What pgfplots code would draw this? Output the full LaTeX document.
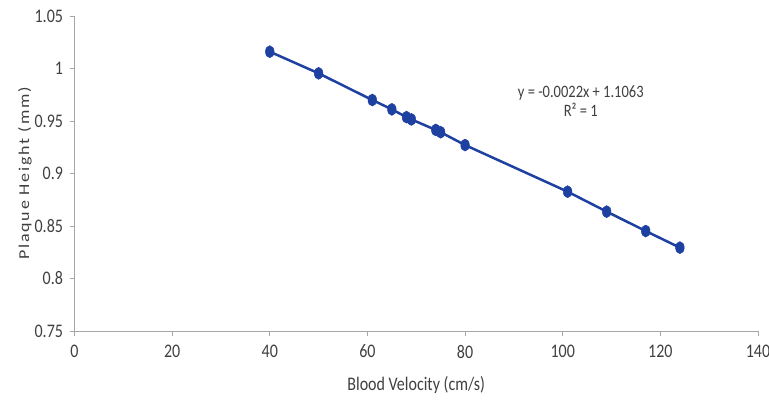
\documentclass[border=0pt]{standalone}
\usepackage{pgfplots}
\pgfplotsset{compat=1.18}
\usepackage{fontspec}
\setmainfont{Carlito}
\definecolor{ptblue}{HTML}{1E40A0}
\definecolor{axgray}{HTML}{A6A6A6}
\definecolor{txt}{HTML}{404040}
\begin{document}
\begin{tikzpicture}
\path[use as bounding box] (-74.5bp,-81bp) rectangle (694.5bp,331bp);
\begin{axis}[at={(0,0)}, anchor=south west, scale only axis,
  width=683.5bp, height=315bp,
  xmin=0, xmax=140, ymin=0.75, ymax=1.05,
  axis lines*=left,
  axis line style={axgray, line width=0.9bp, -},
  tick style={axgray, line width=0.9bp}, tick align=outside, major tick length=5bp,
  xtick={0,20,40,60,80,100,120,140},
  xticklabels={0,20,40,60,80,100,120,140},
  ytick={0.75,0.8,0.85,0.9,0.95,1,1.05},
  yticklabels={0.75,0.8,0.85,0.9,0.95,1,1.05},
  tick label style={font=\fontsize{16bp}{18bp}\selectfont, text=txt, yscale=1.2},
  xticklabel style={yshift=-4bp},
  yticklabel style={xshift=-3bp},
  xlabel={Blood Velocity (cm/s)},
  ylabel={Plaque Height (mm)},
  label style={font=\fontsize{16bp}{18bp}\selectfont, text=txt},
  xlabel style={at={(axis description cs:0.5,-0.171)}, anchor=center, yscale=1.2},
  ylabel style={at={(axis description cs:-0.0724,0.5)}, anchor=center, xscale=1.2, font=\fontsize{15bp}{18bp}\selectfont\addfontfeature{LetterSpace=10}},
  clip=false,
]
\addplot[ptblue, line width=2.5bp, mark=*, mark size=6bp,
  mark options={xscale=0.72, fill=ptblue, draw=ptblue, line width=0.5bp}]
  coordinates {
  (40,1.0160) (50,0.9954) (61,0.9700) (65,0.9611) (68,0.9537) (69,0.9515)
  (74,0.9415) (75,0.9393) (80,0.9271) (101,0.8827) (109,0.8637) (117,0.8452) (124,0.8294)
  };
\node[font=\fontsize{14.5bp}{16bp}\selectfont, text=txt, align=center, yscale=1.2] at (axis cs:103.7,0.9686)
  {y = -0.0022x + 1.1063\\R² = 1};
\end{axis}
\end{tikzpicture}
\end{document}
